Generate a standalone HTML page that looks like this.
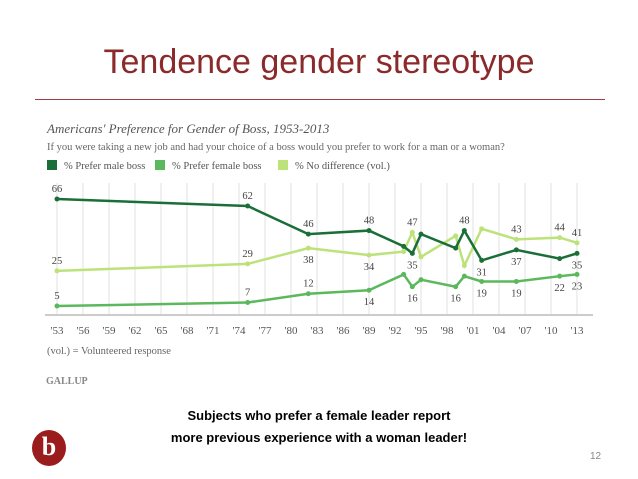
<!DOCTYPE html>
<html><head><meta charset="utf-8"><style>
body{margin:0;width:638px;height:479px;background:#fff;position:relative;overflow:hidden;font-family:"Liberation Sans",sans-serif}
.abs{position:absolute}
</style></head><body>
<div class="abs" style="left:0;width:638px;top:43px;text-align:center;font-size:34px;color:#8b2a2a;">Tendence gender stereotype</div>
<div class="abs" style="left:35px;width:570px;top:99px;height:1px;background:#9a4040"></div>
<div class="abs" style="left:47px;top:121px;font-family:'Liberation Serif',serif;font-style:italic;font-size:13px;color:#555">Americans' Preference for Gender of Boss, 1953-2013</div>
<div class="abs" style="left:47px;top:142px;font-family:'Liberation Serif',serif;font-size:10.5px;color:#666">If you were taking a new job and had your choice of a boss would you prefer to work for a man or a woman?</div>
<svg class="abs" style="left:0;top:0" width="638" height="479" id="chart"></svg>
<div class="abs" style="left:47px;top:346px;font-family:'Liberation Serif',serif;font-size:10.5px;color:#666">(vol.) = Volunteered response</div>
<div class="abs" style="left:46px;top:376px;font-family:'Liberation Serif',serif;font-size:10px;font-weight:bold;color:#888">GALLUP</div>
<div class="abs" style="left:0;width:638px;top:405px;text-align:center;font-size:13px;font-weight:bold;line-height:22px;color:#000">Subjects who prefer a female leader report<br>more previous experience with a woman leader!</div>
<div class="abs" style="left:32px;top:430px;width:34px;height:36px;border-radius:50%;background:#9b1c1c;color:#fff;font-family:'Liberation Serif',serif;font-weight:bold;font-size:26px;text-align:center;line-height:34px">b</div>
<div class="abs" style="left:590px;top:451px;font-size:10px;color:#888">12</div>
<script>
const years=[1953,1975,1982,1989,1993,1994,1995,1999,2000,2002,2006,2011,2013];
const male=[66,62,46,48,39,35,46,38,48,31,37,32,35];
const female=[5,7,12,14,23,16,20,16,22,19,19,22,23];
const nodiff=[25,29,38,34,36,47,33,45,28,49,43,44,41];
const maleLabels=['66a','62a','46a','48a',null,'35b',null,null,'48a','31b','37b',null,'35b'];
const femaleLabels=['5a','7a','12a','14b',null,'16b',null,'16b',null,'19b','19b','22b','23b'];
const nodiffLabels=['25a','29a','38b','34b',null,'47a',null,null,null,null,'43a','44a','41a'];
const tickLabels=["'53","'56","'59","'62","'65","'68","'71","'74","'77","'80","'83","'86","'89","'92","'95","'98","'01","'04","'07","'10","'13"];
const legendNames=['% Prefer male boss','% Prefer female boss','% No difference (vol.)'];
const colors=['#1a6e38','#5cb85c','#bde27a'];
const svg=document.getElementById('chart');const NS='http://www.w3.org/2000/svg';
const x=y=>57+(y-1953)*(520/60);
const yv=v=>199+(66-v)*(107/61);
function mk(t,a,name){const e=document.createElementNS(NS,t);for(const k in a)e.setAttribute(k,a[k]);


svg.appendChild(e);return e;}
tickLabels.forEach((t,i)=>{const xx=x(1953+3*i);
mk('line',{x1:xx,x2:xx,y1:183,y2:315,stroke:'#e2e2e2','stroke-width':1},'gridline');
const tx=mk('text',{x:xx,y:334,'text-anchor':'middle','font-size':'11','font-family':'Liberation Serif,serif',fill:'#555'},'x-tick-label');tx.textContent=t;});
mk('line',{x1:45,x2:593,y1:315,y2:315,stroke:'#ccc','stroke-width':2},'x-axis');
legendNames.forEach((n,i)=>{const lx=[47,155,278][i];
mk('rect',{x:lx,y:160,width:10,height:10,fill:colors[i]},'legend-swatch');
const t=mk('text',{x:lx+17,y:169,'font-size':'10.5','font-family':'Liberation Serif,serif',fill:'#555'},'legend-entry');t.textContent=n;});
[[nodiff,nodiffLabels,'no-difference'],[female,femaleLabels,'female-boss'],[male,maleLabels,'male-boss']].forEach(([d,l,n])=>{
const ci=n=='male-boss'?0:n=='female-boss'?1:2;
mk('polyline',{points:d.map((v,i)=>x(years[i])+','+yv(v)).join(' '),fill:'none',stroke:colors[ci],'stroke-width':2.5},n+'-line');
d.forEach((v,i)=>{mk('circle',{cx:x(years[i]),cy:yv(v),r:2.5,fill:colors[ci]},n+'-point');
if(l[i]){const t=mk('text',{x:x(years[i]),y:yv(v)+(l[i].slice(-1)=='a'?-7:15),'text-anchor':'middle','font-size':'10.5','font-family':'Liberation Serif,serif',fill:'#444'},n+'-value-label');t.textContent=l[i].slice(0,-1);}});});
</script>
</body></html>
